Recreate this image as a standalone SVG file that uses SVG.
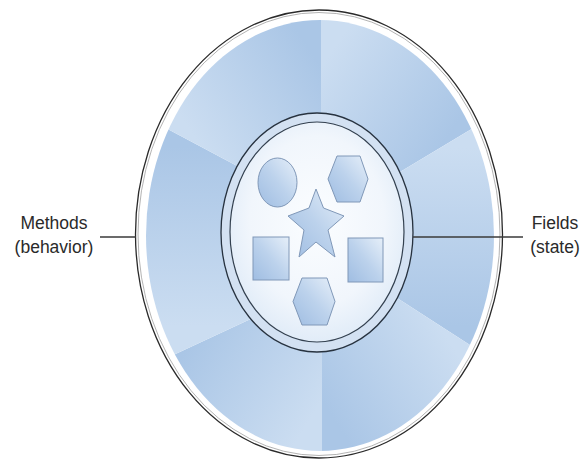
<svg xmlns="http://www.w3.org/2000/svg" width="584" height="464" viewBox="0 0 584 464">
<defs>
<style>
.lbl{font-family:"Liberation Sans",Arial,sans-serif;font-size:17.5px;fill:#2a2a2a;text-anchor:middle}
.conn{stroke:#3a3a3a;stroke-width:1.3;fill:none}
.shape{stroke:#8098b8;stroke-width:1;fill:url(#shapeGrad)}
.s0{stop-color:#cbddf1}
.s1{stop-color:#aac6e6}
</style>
<clipPath id="ringClip"><ellipse cx="320" cy="235.5" rx="174" ry="215.5"/></clipPath>
<linearGradient id="g1" gradientUnits="userSpaceOnUse" x1="321" y1="67" x2="440" y2="148"><stop offset="0" class="s0"/><stop offset="1" class="s1"/></linearGradient>
<linearGradient id="g2" gradientUnits="userSpaceOnUse" x1="440" y1="148" x2="440" y2="326"><stop offset="0" class="s0"/><stop offset="1" class="s1"/></linearGradient>
<linearGradient id="g3" gradientUnits="userSpaceOnUse" x1="440" y1="326" x2="322" y2="400"><stop offset="0" class="s0"/><stop offset="1" class="s1"/></linearGradient>
<linearGradient id="g4" gradientUnits="userSpaceOnUse" x1="322" y1="400" x2="200" y2="326"><stop offset="0" class="s0"/><stop offset="1" class="s1"/></linearGradient>
<linearGradient id="g5" gradientUnits="userSpaceOnUse" x1="200" y1="326" x2="200" y2="146"><stop offset="0" class="s0"/><stop offset="1" class="s1"/></linearGradient>
<linearGradient id="g6" gradientUnits="userSpaceOnUse" x1="200" y1="146" x2="321" y2="67"><stop offset="0" class="s0"/><stop offset="1" class="s1"/></linearGradient>
<radialGradient id="innerGrad" cx="0.5" cy="0.45" r="0.55"><stop offset="0" stop-color="#fbfdff"/><stop offset="0.7" stop-color="#f1f6fc"/><stop offset="1" stop-color="#e1ecf8"/></radialGradient>
<linearGradient id="shapeGrad" x1="1" y1="0" x2="0" y2="1"><stop offset="0" stop-color="#e6eff9"/><stop offset="0.5" stop-color="#bcd2ec"/><stop offset="1" stop-color="#9fbde2"/></linearGradient>
</defs>
<rect width="584" height="464" fill="#ffffff"/>

<g id="object">
<ellipse cx="319" cy="234" rx="183.5" ry="224" fill="#ffffff" stroke="#2a2a2a" stroke-width="1.3"/>
<ellipse cx="319" cy="234" rx="181" ry="221.5" fill="none" stroke="#a0a0a0" stroke-width="0.8"/>
<g id="methods-ring" clip-path="url(#ringClip)">
<polygon points="320,240 321,200 321,-20 580,-20 580,64 380,184" fill="url(#g1)"/>
<polygon points="320,240 380,184 580,64 580,416 380,287" fill="url(#g2)"/>
<polygon points="320,240 380,287 580,416 580,480 322,480 322,280" fill="url(#g3)"/>
<polygon points="320,240 322,280 322,480 60,480 60,408 260,314.6" fill="url(#g4)"/>
<polygon points="320,240 260,314.6 60,408 60,72 260,178" fill="url(#g5)"/>
<polygon points="320,240 260,178 60,72 60,-20 321,-20 321,200" fill="url(#g6)"/>
</g>
</g>

<g id="fields-core">
<ellipse cx="317" cy="232.5" rx="96" ry="119.5" fill="#d3e1f2" stroke="#27323f" stroke-width="1.3"/>
<ellipse cx="317" cy="232" rx="87" ry="110" fill="url(#innerGrad)" stroke="#33404f" stroke-width="1.2"/>
</g>

<g id="fields">
<ellipse id="circle" class="shape" cx="277.5" cy="182.5" rx="19.5" ry="24.5"/>
<polygon id="hexagon-top" class="shape" points="337,156 360,156 368,179 360,202 337,202 328,179"/>
<polygon id="star" class="shape" points="316,189 323.5,208 344,216 328,230 335,257 316,242 299,257 304,230 288,216 309,208"/>
<rect id="square-left" class="shape" x="253" y="237" width="36" height="43"/>
<rect id="square-right" class="shape" x="348" y="238" width="35" height="44"/>
<polygon id="hexagon-bottom" class="shape" points="302,278 327,278 335,301.5 327,325 302,325 293,301.5"/>
</g>

<g id="connectors">
<line class="conn" x1="100" y1="237" x2="136" y2="237"/>
<line class="conn" x1="413" y1="237" x2="523" y2="237"/>
</g>

<g id="label-methods">
<text class="lbl" x="54" y="229">Methods</text>
<text class="lbl" x="54" y="253">(behavior)</text>
</g>
<g id="label-fields">
<text class="lbl" x="555" y="229">Fields</text>
<text class="lbl" x="555" y="253">(state)</text>
</g>
</svg>
